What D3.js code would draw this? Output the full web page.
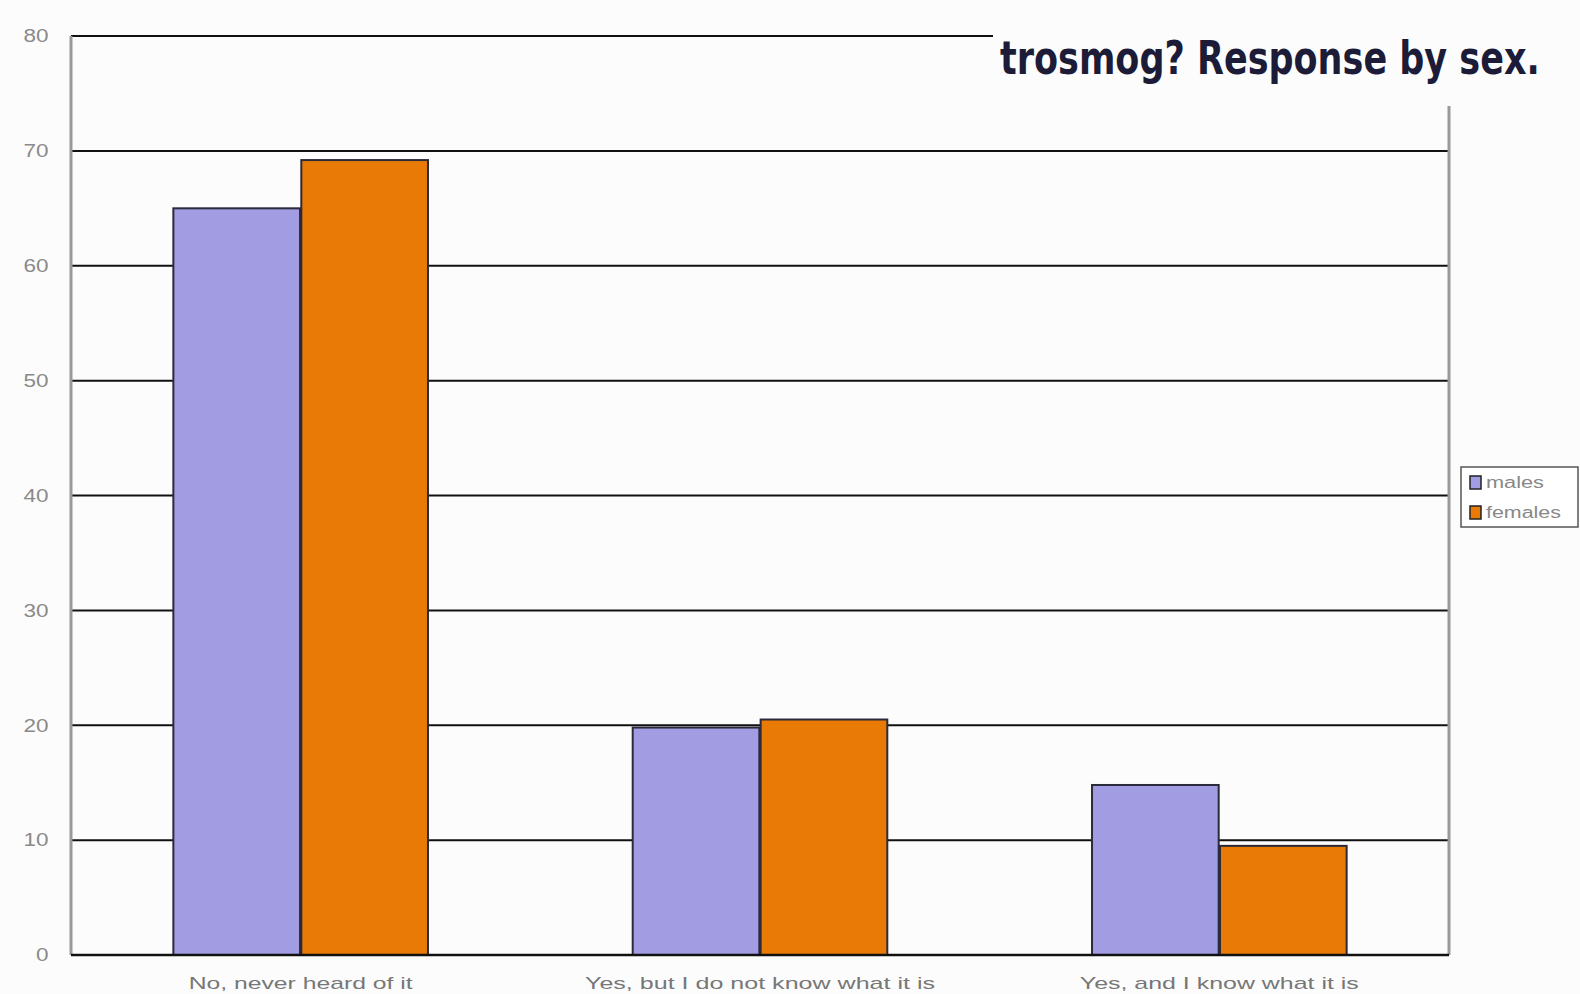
<!DOCTYPE html>
<html><head><meta charset="utf-8">
<script src="https://cdn.jsdelivr.net/npm/d3@7"></script>
<style>body{margin:0;background:#fcfcfc;}svg{display:block;}</style>
</head><body>
<script>
const categories = ["No, never heard of it", "Yes, but I do not know what it is", "Yes, and I know what it is"];
const seriesNames = ["males", "females"];
const males = [65, 19.8, 14.8];
const females = [69.2, 20.5, 9.5];
const yTicks = [0, 10, 20, 30, 40, 50, 60, 70, 80];
const titleText = "trosmog? Response by sex.";
const colors = {males: "#a29ce2", females: "#e97a06"};

const W = 1580, H = 994;
const m = {left: 71, right: 131, top: 36, bottom: 39};
const svg = d3.select("body").append("svg").attr("width", W).attr("height", H);
svg.append("rect").attr("width", W).attr("height", H).attr("fill", "#fcfcfc");

const y = d3.scaleLinear().domain([0, 80]).range([H - m.bottom, m.top]);
const x0 = d3.scaleBand().domain(categories).range([m.left, W - m.right]).padding(0);
const x1 = d3.scaleBand().domain(seriesNames).range([0, x0.bandwidth()]).paddingInner(0.01).paddingOuter(0.8);

// gridlines
svg.append("g").selectAll("line").data(yTicks.filter(d => d > 0)).join("line")
  .attr("x1", m.left).attr("x2", W - m.right)
  .attr("y1", d => y(d)).attr("y2", d => y(d))
  .attr("stroke", "#111").attr("stroke-width", 2);

// axes lines
svg.append("line").attr("x1", m.left).attr("x2", m.left).attr("y1", y(80)).attr("y2", y(0))
  .attr("stroke", "#999").attr("stroke-width", 3);
svg.append("line").attr("x1", W - m.right).attr("x2", W - m.right).attr("y1", 106).attr("y2", y(0))
  .attr("stroke", "#999").attr("stroke-width", 3);

// y tick labels
const yAxis = d3.axisLeft(y).tickValues(yTicks).tickSize(0).tickPadding(22);
const ya = svg.append("g").attr("transform", `translate(${m.left},0)`).call(yAxis);
ya.select(".domain").remove();
ya.selectAll("text").attr("font-family", "Liberation Sans, Arial, sans-serif").attr("font-size", 18)
  .attr("fill", "#8a8a8a").attr("transform", "scale(1.25,1)").attr("x", -20 / 1.25 - 2);

// bars
const data = categories.map((c, i) => ({cat: c, vals: [{k: "males", v: males[i]}, {k: "females", v: females[i]}]}));
const g = svg.append("g").selectAll("g").data(data).join("g")
  .attr("transform", d => `translate(${x0(d.cat)},0)`);
g.selectAll("rect").data(d => d.vals).join("rect")
  .attr("x", d => x1(d.k)).attr("width", x1.bandwidth())
  .attr("y", d => y(d.v)).attr("height", d => y(0) - y(d.v))
  .attr("fill", d => colors[d.k]).attr("stroke", "#2a2a3a").attr("stroke-width", 2);

// baseline
svg.append("line").attr("x1", m.left).attr("x2", W - m.right).attr("y1", y(0)).attr("y2", y(0))
  .attr("stroke", "#111").attr("stroke-width", 2.5);

// x labels
const labelWidths = [224, 350, 279];
const xAxis = d3.axisBottom(x0).tickSize(0).tickPadding(22);
const xa = svg.append("g").attr("transform", `translate(0,${y(0)})`).call(xAxis);
xa.select(".domain").remove();
xa.selectAll("text").attr("font-family", "Liberation Sans, Arial, sans-serif").attr("font-size", 17)
  .attr("fill", "#777")
  .attr("textLength", (d, i) => labelWidths[i]).attr("lengthAdjust", "spacingAndGlyphs");

// title box
svg.append("rect").attr("x", 993).attr("y", 0).attr("width", W - 993).attr("height", 104).attr("fill", "#fcfcfc");
const title = svg.append("text").attr("x", 0).attr("y", 0).text(titleText)
  .attr("font-family", "DejaVu Sans Condensed, DejaVu Sans, sans-serif").attr("font-weight", "bold")
  .attr("font-size", 46).attr("fill", "#1c1c38");
const natural = title.node().getComputedTextLength();
title.attr("transform", `translate(1000,74) scale(${540 / natural},1)`);

// legend
const lg = svg.append("g").attr("transform", "translate(1461,467)");
lg.append("rect").attr("width", 117).attr("height", 60).attr("fill", "#fff").attr("stroke", "#555").attr("stroke-width", 1.5);
seriesNames.forEach((s, i) => {
  lg.append("rect").attr("x", 9).attr("y", 9 + i * 30).attr("width", 11).attr("height", 13)
    .attr("fill", colors[s]).attr("stroke", "#222").attr("stroke-width", 1.5);
  lg.append("text").attr("x", 25).attr("y", 21 + i * 30).text(s)
    .attr("font-family", "Liberation Sans, Arial, sans-serif").attr("font-size", 16).attr("fill", "#888")
    .attr("textLength", s === "males" ? 58 : 75).attr("lengthAdjust", "spacingAndGlyphs");
});
</script>
</body></html>
